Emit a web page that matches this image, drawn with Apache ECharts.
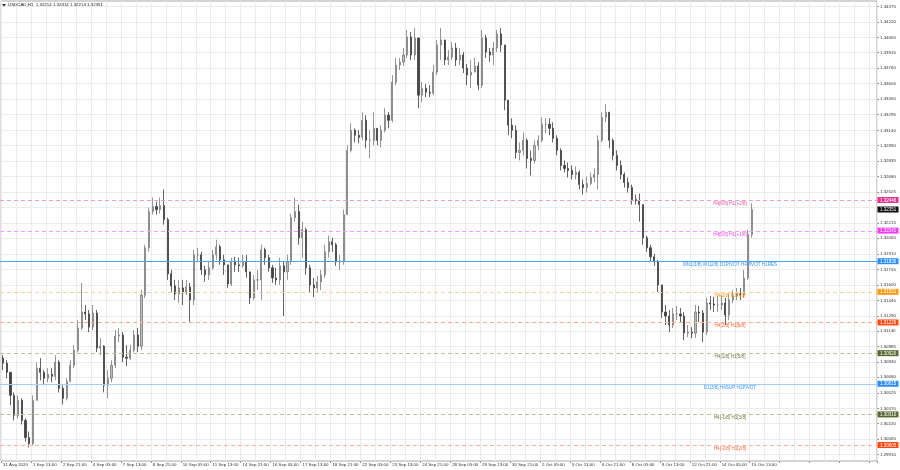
<!DOCTYPE html>
<html><head><meta charset="utf-8">
<script src="https://cdn.jsdelivr.net/npm/echarts@6/dist/echarts.min.js"></script>
<style>html,body{margin:0;padding:0;background:#fff}#c{width:900px;height:470px}</style>
</head><body><div id="c"></div>
<script>
// ---- data ----
const chartTitle = 'USDCAD,H1  1.32214 1.32414 1.32214 1.32351';
const timeLabels = ['31 Aug 2020','1 Sep 13:00','2 Sep 21:00','4 Sep 05:00','7 Sep 13:00','8 Sep 21:00','10 Sep 05:00','11 Sep 13:00','14 Sep 21:00','16 Sep 05:00','17 Sep 13:00','18 Sep 21:00','22 Sep 05:00','23 Sep 13:00','24 Sep 21:00','28 Sep 05:00','29 Sep 13:00','30 Sep 21:00','2 Oct 05:00','5 Oct 13:00','6 Oct 21:00','8 Oct 05:00','9 Oct 13:00','12 Oct 21:00','14 Oct 05:00','15 Oct 13:00'];
const priceTicks = [1.34375,1.34220,1.34065,1.33915,1.33760,1.33605,1.33450,1.33295,1.33140,1.32990,1.32835,1.32680,1.32525,1.32370,1.32215,1.32065,1.31910,1.31755,1.31600,1.31445,1.31290,1.31140,1.30985,1.30830,1.30680,1.30525,1.30370,1.30220,1.30065,1.29910];
const priceLabels = [1.34375,1.34220,1.34065,1.33915,1.33760,1.33605,1.33450,1.33295,1.33140,1.32990,1.32835,1.32680,1.32525,1.32215,1.32065,1.31910,1.31755,1.31600,1.31445,1.31290,1.31140,1.30985,1.30830,1.30680,1.30525,1.30370,1.30220,1.30065,1.29910];
const opens = [1.3087,1.3082,1.3073,1.3050,1.3030,1.3045,1.3025,1.3008,1.3002,1.3045,1.3077,1.3073,1.3067,1.3071,1.3069,1.3083,1.3057,1.3047,1.3064,1.3080,1.3095,1.3117,1.3133,1.3131,1.3118,1.3132,1.3097,1.3099,1.3060,1.3067,1.3080,1.3109,1.3110,1.3088,1.3087,1.3095,1.3110,1.3099,1.3150,1.3197,1.3233,1.3238,1.3235,1.3239,1.3225,1.3171,1.3159,1.3151,1.3157,1.3152,1.3158,1.3145,1.3190,1.3190,1.3175,1.3170,1.3177,1.3190,1.3198,1.3185,1.3180,1.3161,1.3183,1.3180,1.3179,1.3183,1.3173,1.3147,1.3165,1.3165,1.3195,1.3187,1.3177,1.3167,1.3165,1.3179,1.3173,1.3183,1.3227,1.3233,1.3207,1.3215,1.3177,1.3160,1.3157,1.3163,1.3170,1.3193,1.3203,1.3200,1.3183,1.3183,1.3230,1.3294,1.3314,1.3309,1.3307,1.3324,1.3304,1.3304,1.3316,1.3304,1.3314,1.3329,1.3324,1.3362,1.3379,1.3382,1.3389,1.3407,1.3389,1.3406,1.3349,1.3356,1.3352,1.3351,1.3372,1.3399,1.3404,1.3384,1.3387,1.3396,1.3384,1.3389,1.3376,1.3369,1.3372,1.3378,1.3359,1.3406,1.3392,1.3389,1.3396,1.3410,1.3399,1.3344,1.3319,1.3314,1.3292,1.3294,1.3304,1.3286,1.3284,1.3299,1.3304,1.3320,1.3320,1.3316,1.3306,1.3294,1.3279,1.3276,1.3274,1.3270,1.3272,1.3260,1.3257,1.3261,1.3267,1.3270,1.3304,1.3327,1.3332,1.3304,1.3289,1.3279,1.3270,1.3262,1.3257,1.3245,1.3244,1.3240,1.3207,1.3197,1.3188,1.3183,1.3160,1.3133,1.3129,1.3120,1.3131,1.3131,1.3129,1.3112,1.3113,1.3112,1.3133,1.3132,1.3113,1.3142,1.3141,1.3140,1.3140,1.3142,1.3130,1.3145,1.3149,1.3151,1.3150,1.3167,1.3210];
const closes = [1.3082,1.3073,1.3050,1.3030,1.3045,1.3025,1.3008,1.3002,1.3045,1.3077,1.3073,1.3067,1.3071,1.3069,1.3083,1.3057,1.3047,1.3064,1.3080,1.3095,1.3117,1.3133,1.3131,1.3118,1.3132,1.3097,1.3099,1.3060,1.3067,1.3080,1.3109,1.3110,1.3088,1.3087,1.3095,1.3110,1.3099,1.3150,1.3197,1.3233,1.3238,1.3235,1.3239,1.3225,1.3171,1.3159,1.3151,1.3157,1.3152,1.3158,1.3145,1.3190,1.3190,1.3175,1.3170,1.3177,1.3190,1.3198,1.3185,1.3180,1.3161,1.3183,1.3180,1.3179,1.3183,1.3173,1.3147,1.3165,1.3165,1.3195,1.3187,1.3177,1.3167,1.3165,1.3179,1.3173,1.3183,1.3227,1.3233,1.3207,1.3215,1.3177,1.3160,1.3157,1.3163,1.3170,1.3193,1.3203,1.3200,1.3183,1.3183,1.3230,1.3294,1.3314,1.3309,1.3307,1.3324,1.3304,1.3304,1.3316,1.3304,1.3314,1.3329,1.3324,1.3362,1.3379,1.3382,1.3389,1.3407,1.3389,1.3406,1.3349,1.3356,1.3352,1.3351,1.3372,1.3399,1.3404,1.3384,1.3387,1.3396,1.3384,1.3389,1.3376,1.3369,1.3372,1.3378,1.3359,1.3406,1.3392,1.3389,1.3396,1.3410,1.3399,1.3344,1.3319,1.3314,1.3292,1.3294,1.3304,1.3286,1.3284,1.3299,1.3304,1.3320,1.3320,1.3316,1.3306,1.3294,1.3279,1.3276,1.3274,1.3270,1.3272,1.3260,1.3257,1.3261,1.3267,1.3270,1.3304,1.3327,1.3332,1.3304,1.3289,1.3279,1.3270,1.3262,1.3257,1.3245,1.3244,1.3240,1.3207,1.3197,1.3188,1.3183,1.3160,1.3133,1.3129,1.3120,1.3131,1.3131,1.3129,1.3112,1.3113,1.3112,1.3133,1.3132,1.3113,1.3142,1.3141,1.3140,1.3140,1.3142,1.3130,1.3145,1.3149,1.3151,1.3150,1.3167,1.3210,1.32351];
const highs = [1.3090,1.3085,1.3073,1.3053,1.3050,1.3047,1.3027,1.3014,1.3050,1.3083,1.3087,1.3075,1.3077,1.3077,1.3090,1.3085,1.3060,1.3067,1.3085,1.3100,1.3125,1.3162,1.3140,1.3135,1.3140,1.3135,1.3107,1.3100,1.3075,1.3085,1.3115,1.3117,1.3113,1.3100,1.3100,1.3115,1.3117,1.3155,1.3200,1.3237,1.3247,1.3243,1.3247,1.3255,1.3227,1.3175,1.3165,1.3165,1.3165,1.3165,1.3162,1.3195,1.3197,1.3193,1.3179,1.3183,1.3195,1.3205,1.3200,1.3190,1.3180,1.3187,1.3188,1.3187,1.3190,1.3190,1.3173,1.3170,1.3175,1.3200,1.3197,1.3190,1.3180,1.3177,1.3187,1.3183,1.3190,1.3231,1.3247,1.3240,1.3223,1.3217,1.3180,1.3167,1.3169,1.3175,1.3200,1.3209,1.3207,1.3202,1.3190,1.3235,1.3299,1.3321,1.3316,1.3314,1.3332,1.3329,1.3314,1.3332,1.3316,1.3319,1.3336,1.3332,1.3369,1.3386,1.3386,1.3396,1.3414,1.3412,1.3416,1.3406,1.3362,1.3360,1.3359,1.3379,1.3404,1.3416,1.3394,1.3394,1.3402,1.3401,1.3396,1.3392,1.3380,1.3384,1.3386,1.3382,1.3414,1.3409,1.3396,1.3402,1.3414,1.3416,1.3399,1.3344,1.3326,1.3319,1.3302,1.3312,1.3306,1.3294,1.3304,1.3309,1.3327,1.3326,1.3326,1.3322,1.3309,1.3296,1.3284,1.3282,1.3279,1.3278,1.3274,1.3265,1.3268,1.3272,1.3276,1.3309,1.3332,1.3340,1.3332,1.3306,1.3294,1.3284,1.3272,1.3267,1.3260,1.3250,1.3251,1.3240,1.3209,1.3200,1.3191,1.3185,1.3160,1.3140,1.3135,1.3137,1.3139,1.3137,1.3133,1.3120,1.3118,1.3140,1.3139,1.3135,1.3147,1.3149,1.3148,1.3149,1.3150,1.3147,1.3151,1.3155,1.3157,1.3157,1.3175,1.3215,1.32414];
const lows = [1.3075,1.3067,1.3040,1.3025,1.3027,1.3021,1.3004,1.2998,1.3000,1.3045,1.3065,1.3060,1.3063,1.3063,1.3065,1.3053,1.3041,1.3045,1.3063,1.3077,1.3093,1.3115,1.3125,1.3113,1.3115,1.3093,1.3090,1.3053,1.3047,1.3063,1.3077,1.3103,1.3083,1.3079,1.3085,1.3093,1.3093,1.3095,1.3147,1.3193,1.3230,1.3230,1.3231,1.3220,1.3165,1.3153,1.3145,1.3142,1.3140,1.3150,1.3123,1.3140,1.3183,1.3170,1.3163,1.3165,1.3175,1.3185,1.3180,1.3170,1.3157,1.3159,1.3173,1.3173,1.3177,1.3167,1.3141,1.3145,1.3155,1.3145,1.3180,1.3173,1.3162,1.3160,1.3160,1.3129,1.3165,1.3180,1.3223,1.3200,1.3187,1.3170,1.3153,1.3148,1.3153,1.3155,1.3167,1.3187,1.3193,1.3179,1.3175,1.3180,1.3230,1.3292,1.3302,1.3301,1.3304,1.3296,1.3286,1.3299,1.3299,1.3297,1.3312,1.3316,1.3322,1.3359,1.3374,1.3378,1.3386,1.3384,1.3384,1.3336,1.3342,1.3347,1.3347,1.3349,1.3369,1.3384,1.3379,1.3379,1.3384,1.3378,1.3379,1.3371,1.3359,1.3356,1.3372,1.3354,1.3356,1.3386,1.3382,1.3379,1.3392,1.3392,1.3334,1.3309,1.3306,1.3286,1.3284,1.3289,1.3276,1.3269,1.3281,1.3294,1.3302,1.3311,1.3309,1.3302,1.3289,1.3274,1.3272,1.3267,1.3265,1.3265,1.3255,1.3250,1.3252,1.3259,1.3262,1.3255,1.3302,1.3322,1.3296,1.3284,1.3274,1.3265,1.3257,1.3252,1.3240,1.3240,1.3223,1.3200,1.3193,1.3183,1.3179,1.3153,1.3127,1.3120,1.3113,1.3117,1.3125,1.3123,1.3105,1.3108,1.3107,1.3107,1.3123,1.3103,1.3110,1.3135,1.3133,1.3133,1.3135,1.3120,1.3125,1.3142,1.3145,1.3145,1.3147,1.3165,1.3207];
const levelValues = [1.32446,1.32141,1.31836,1.31531,1.31226,1.30920,1.30615,1.30310,1.30005];
const levelTexts = ['H4[6/8] H1[+2/8]','H4[5/8] H1[+1/8]','MN1[3/8] W1[2/8] D1PIVOT H4PIVOT H1RES','H4[3/8] H1[7/8]','H4[2/8] H1[6/8]','H4[1/8] H1[5/8]','D1[3/8] H4SUP H1PIVOT','H4[-1/8] H1[3/8]','H4[-2/8] H1[2/8]'];
const lastPrice = 1.32351;

// ---- styles ----
const boxColors  = ['#e0338f','#f23cf2','#2f8ff5','#ff9a10','#ff4a14','#566b2e','#2f8ff5','#566b2e','#ff4a14'];
const lineColors = ['#f09ccc','#f59cf5','#4da2ff','#ffcf94','#ffab94','#c4bd9c','#a3cdff','#c4bd9c','#ffb0a0'];
const textColors = ['#e0559e','#ee44ee','#3a95f0','#ff9c1a','#ff6030','#6b7a45','#3a95f0','#6b7a45','#ff6a40'];
const lineDashed = [true,true,false,true,true,true,false,true,true];
const FONT = '"Liberation Sans", Arial, sans-serif';
const NCAT = 234;
const cats = Array.from({length: NCAT}, (_, i) => i);
const candles = opens.map((o, i) => [o, closes[i], lows[i], highs[i]]);

const chart = echarts.init(document.getElementById('c'), null, {renderer: 'canvas'});

chart.setOption({
  animation: false,
  backgroundColor: '#fff',
  grid: {left: 0, right: 23, top: 1, bottom: 9, show: true, borderColor: '#a8a8a8', borderWidth: 1, backgroundColor: '#fff'},
  xAxis: {
    type: 'category', data: cats, boundaryGap: true,
    axisLine: {show: false},
    axisTick: {show: true, interval: 7, length: 2, lineStyle: {color: '#999'}},
    axisLabel: {interval: 7, align: 'left', fontSize: 4.4, fontFamily: FONT, color: '#333', margin: 2,
      showMaxLabel: false,
      formatter: (v, i) => (i % 8 === 0 && timeLabels[i / 8]) ? timeLabels[i / 8] : ''},
    splitLine: {show: true, interval: 3, lineStyle: {color: '#ececec', width: 1}}
  },
  yAxis: {
    type: 'value', position: 'right', scale: true, min: 1.29846, max: 1.34428,
    axisLine: {show: false},
    axisTick: {show: true, length: 2, customValues: priceTicks, lineStyle: {color: '#999'}},
    axisLabel: {customValues: priceLabels, fontSize: 4.4, fontFamily: FONT, color: '#333', margin: 3,
      formatter: v => v.toFixed(5)},
    splitLine: {show: true, lineStyle: {color: '#ececec', width: 1}}
  },
  series: [{
    type: 'candlestick', data: candles, barWidth: 1.6,
    itemStyle: {color: '#bcbcbc', borderColor: '#7a7a7a', color0: '#454545', borderColor0: '#3c3c3c', borderWidth: 0.8},
    z: 3
  }]
});

// level lines and right price boxes, positioned through the y axis scale
const gfx = [
  {type: 'polygon', shape: {points: [[2, 4], [6, 4], [4, 6.5]]}, style: {fill: '#222'}},
  {type: 'text', x: 8, y: 5, style: {text: chartTitle, font: '4.4px ' + FONT, fill: '#222', textVerticalAlign: 'middle'}}
];
const gridLeft = 0, gridRight = 877;
function priceBox(v, bg) {
  const py = chart.convertToPixel({yAxisIndex: 0}, v);
  gfx.push({type: 'rect', z: 20, shape: {x: 877.5, y: py - 3, width: 21, height: 6}, style: {fill: bg}});
  gfx.push({type: 'text', z: 21, x: 880, y: py + 0.3,
    style: {text: v.toFixed(5), font: '4.5px ' + FONT, fill: '#fff', textVerticalAlign: 'middle'}});
}
levelValues.forEach((v, i) => {
  const py = Math.round(chart.convertToPixel({yAxisIndex: 0}, v)) + 0.5;
  gfx.push({type: 'line', z: 5, shape: {x1: gridLeft, y1: py, x2: gridRight, y2: py},
    style: {stroke: lineColors[i], lineWidth: 1, lineDash: lineDashed[i] ? [4, 3] : null}});
  gfx.push({type: 'text', x: 730, y: py + 0.5, z: 10,
    style: {text: levelTexts[i], font: '4.6px ' + FONT, fill: textColors[i], textAlign: 'center', textVerticalAlign: 'top'}});
  priceBox(v, boxColors[i]);
});
priceBox(lastPrice, '#111');
chart.setOption({graphic: gfx});
</script></body></html>
